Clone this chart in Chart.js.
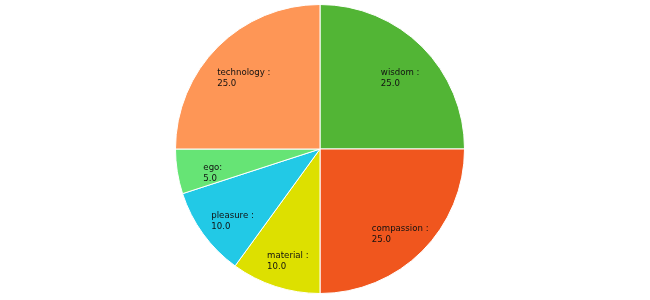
<!DOCTYPE html>
<html>
<head>
<meta charset="utf-8">
<script src="https://cdn.jsdelivr.net/npm/chart.js@4"></script>
<style>
html,body{margin:0;padding:0;background:#fff;}
#wrap{width:650px;height:300px;}
</style>
</head>
<body>
<div id="wrap"><canvas id="c" width="650" height="300"></canvas></div>
<script>
const categories = ["wisdom", "compassion", "material", "pleasure", "ego", "technology"];
const values = [25, 25, 10, 10, 5, 25];
const colors = ["#52b535", "#f0561e", "#dde000", "#22c9e6", "#66e475", "#fe9656"];

const labelPlugin = {
  id: 'sliceLabels',
  afterDatasetsDraw(chart) {
    const ctx = chart.ctx;
    const meta = chart.getDatasetMeta(0);
    ctx.save();
    ctx.font = '8.6px "DejaVu Sans", Verdana, sans-serif';
    ctx.fillStyle = '#111';
    ctx.textBaseline = 'middle';
    ctx.textAlign = 'left';
    meta.data.forEach((arc, i) => {
      const p = arc.getProps(['x', 'y', 'startAngle', 'endAngle', 'outerRadius'], true);
      const mid = (p.startAngle + p.endAngle) / 2;
      const r = p.outerRadius * 0.765;
      const ax = p.x + Math.cos(mid) * r + 2;
      const ay = p.y + Math.sin(mid) * r + 1.5;
      const l1 = categories[i] === 'ego' ? 'ego:' : categories[i] + ' :';
      const l2 = values[i].toFixed(1);
      const w = ctx.measureText(l1).width;
      const lx = ax - w / 2;
      ctx.fillText(l1, lx, ay);
      ctx.fillText(l2, lx, ay + 11);
    });
    ctx.restore();
  }
};

new Chart(document.getElementById('c'), {
  type: 'pie',
  data: {
    labels: categories,
    datasets: [{
      data: values,
      backgroundColor: colors,
      borderColor: '#ffffff',
      borderWidth: 1
    }]
  },
  options: {
    responsive: false,
    animation: false,
    layout: { padding: { top: 4, bottom: 6, left: 0, right: 10 } },
    plugins: { legend: { display: false }, tooltip: { enabled: false } }
  },
  plugins: [labelPlugin]
});
</script>
</body>
</html>
